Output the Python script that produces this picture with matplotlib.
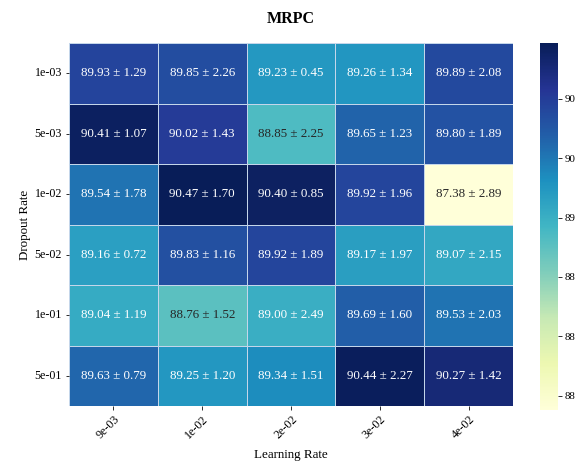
import numpy as np
import matplotlib
matplotlib.use("Agg")
import matplotlib.pyplot as plt
import seaborn as sns

plt.rcParams["font.family"] = ["Liberation Serif", "DejaVu Serif"]

learning_rates = ["9e-03", "1e-02", "2e-02", "3e-02", "4e-02"]
dropout_rates = ["1e-03", "5e-03", "1e-02", "5e-02", "1e-01", "5e-01"]

mean_acc = np.array([
    [89.93, 89.85, 89.23, 89.26, 89.89],
    [90.41, 90.02, 88.85, 89.65, 89.80],
    [89.54, 90.47, 90.40, 89.92, 87.38],
    [89.16, 89.83, 89.92, 89.17, 89.07],
    [89.04, 88.76, 89.00, 89.69, 89.53],
    [89.63, 89.25, 89.34, 90.44, 90.27],
])
std_acc = np.array([
    [1.29, 2.26, 0.45, 1.34, 2.08],
    [1.07, 1.43, 2.25, 1.23, 1.89],
    [1.78, 1.70, 0.85, 1.96, 2.89],
    [0.72, 1.16, 1.89, 1.97, 2.15],
    [1.19, 1.52, 2.49, 1.60, 2.03],
    [0.79, 1.20, 1.51, 2.27, 1.42],
])

labels = np.array([[f"{m:.2f} ± {s:.2f}" for m, s in zip(mr, sr)]
                   for mr, sr in zip(mean_acc, std_acc)])

W, H = 576, 465
fig = plt.figure(figsize=(W / 72, H / 72), dpi=72)
ax = fig.add_axes([69 / W, 1 - 406 / H, (513 - 69) / W, (406 - 43) / H])
cax = fig.add_axes([540 / W, 1 - 410 / H, 18 / W, (410 - 43) / H])

sns.heatmap(mean_acc, annot=labels, fmt="", cmap="YlGnBu",
            xticklabels=learning_rates, yticklabels=dropout_rates,
            linewidths=0.5, linecolor="#c4d6ea",
            annot_kws={"fontsize": 13},
            cbar_ax=cax, cbar_kws={"format": "%.0f"}, ax=ax)

ax.set_title("MRPC", fontsize=16, fontweight="bold", pad=20)
ax.set_xlabel("Learning Rate", fontsize=13, labelpad=8)
ax.set_ylabel("Dropout Rate", fontsize=13)
ax.tick_params(axis="both", labelsize=12)
plt.setp(ax.get_xticklabels(), rotation=45, ha="right", rotation_mode="anchor")
plt.setp(ax.get_yticklabels(), rotation=0)
cax.tick_params(labelsize=11)

plt.savefig("out.png")
